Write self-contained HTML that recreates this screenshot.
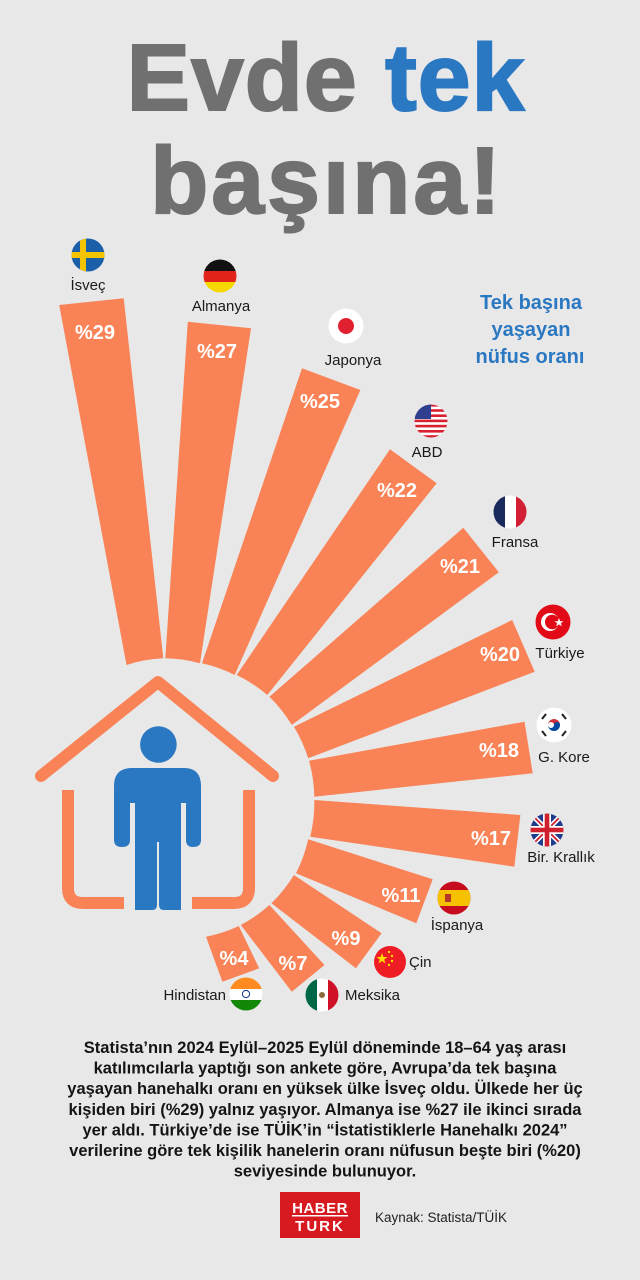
<!DOCTYPE html>
<html><head><meta charset="utf-8"><style>
html,body{margin:0;padding:0;background:#e8e8e9;}
svg{display:block;}
text{font-family:"Liberation Sans",sans-serif;}
</style></head><body>
<svg width="640" height="1280" viewBox="0 0 640 1280" xmlns="http://www.w3.org/2000/svg">
<rect width="640" height="1280" fill="#e8e8e9"/>
<defs>
<clipPath id="c"><circle cx="0" cy="0" r="16.5"/></clipPath>
</defs>
<!-- Title -->
<text x="326" y="110" text-anchor="middle" font-size="95" font-weight="bold" fill="#707070" stroke="#707070" stroke-width="2" letter-spacing="1">Evde <tspan fill="#2b78c2" stroke="#2b78c2">tek</tspan></text>
<text x="327" y="213" text-anchor="middle" font-size="95" font-weight="bold" fill="#707070" stroke="#707070" stroke-width="2" letter-spacing="3">başına!</text>

<g font-weight="bold" font-size="20" fill="#2b78c2" text-anchor="middle">
<text x="531" y="309">Tek başına</text>
<text x="531" y="336">yaşayan</text>
<text x="530" y="363">nüfus oranı</text>
</g>

<!-- Bars -->
<g fill="#f98356">
<path d="M126.5,665 L59.2,305 L123.7,298.3 L163.3,658.3 A142,142 0 0 0 126.5,665Z"/>
<path d="M165.3,658.3 L187.8,321.7 L251,328.3 L200,663.3 A142,142 0 0 0 165.3,658.3Z"/>
<path d="M202,663.3 L302,368.3 L360.4,390 L234.7,675 A142,142 0 0 0 202,663.3Z"/>
<path d="M236.7,675 L390,449.3 L436.7,483.3 L267.3,695 A142,142 0 0 0 236.7,675Z"/>
<path d="M269.4,696.7 L463.3,527.7 L498.8,572.3 L291.8,725 A142,142 0 0 0 269.4,696.7Z"/>
<path d="M293.9,726.7 L512.2,620 L534.7,671.7 L308.2,758.3 A142,142 0 0 0 293.9,726.7Z"/>
<path d="M309,760.7 L524.5,721.7 L532.7,773.3 L314.3,796.7 A142,142 0 0 0 309,760.7Z"/>
<path d="M314.3,800 L520.4,815 L514.3,866.7 L310.2,836.7 A142,142 0 0 0 314.3,800Z"/>
<path d="M308.2,839.3 L432.7,879.3 L416.3,923.3 L296,873.3 A142,142 0 0 0 308.2,839.3Z"/>
<path d="M293.9,875 L381.6,933.3 L355.9,968.3 L271.4,903.3 A142,142 0 0 0 293.9,875Z"/>
<path d="M269.4,905 L324.5,965 L291.8,991.7 L240.8,925 A142,142 0 0 0 269.4,905Z"/>
<path d="M238.8,926 L259.2,968.3 L222.4,981.7 L206,936.7 A142,142 0 0 0 238.8,926Z"/>
</g>
<g fill="#fff" font-weight="bold" font-size="20" text-anchor="middle">
<text x="95" y="339">%29</text>
<text x="217" y="358">%27</text>
<text x="320" y="408">%25</text>
<text x="397" y="497">%22</text>
<text x="460" y="573">%21</text>
<text x="500" y="661">%20</text>
<text x="499" y="757">%18</text>
<text x="491" y="845">%17</text>
<text x="401" y="902">%11</text>
<text x="346" y="945">%9</text>
<text x="293" y="970">%7</text>
<text x="234" y="965">%4</text>
</g>

<!-- House -->
<g fill="none" stroke="#f98356" stroke-width="12" stroke-linecap="round" stroke-linejoin="round">
<polyline points="41,776 158,682 273,776"/>
<path d="M68,790 V888 Q68,903 83,903 H124" stroke-linecap="butt"/>
<path d="M249,790 V888 Q249,903 234,903 H192" stroke-linecap="butt"/>
</g>
<g fill="#2b78c2">
<circle cx="158.4" cy="744.5" r="18.3"/>
<path d="M132,768 H184 Q201,768 201,786 V840 Q201,847 193,847 Q186,847 186,840 V803 H181 V910 H164 Q159,910 159,905 V842 H157 V905 Q157,910 152,910 H135 V803 H130 V840 Q130,847 122,847 Q114,847 114,840 V786 Q114,768 132,768Z"/>
</g>

<!-- Flags -->
<g transform="translate(88,255)" clip-path="url(#c)"><rect x="-17" y="-17" width="34" height="34" fill="#1b5fa8"/><rect x="-17" y="-3" width="34" height="6" fill="#f5c400"/><rect x="-8" y="-17" width="6" height="34" fill="#f5c400"/></g>
<g transform="translate(220,276)" clip-path="url(#c)"><rect x="-17" y="-17" width="34" height="12" fill="#111"/><rect x="-17" y="-5" width="34" height="11" fill="#e2231a"/><rect x="-17" y="6" width="34" height="11" fill="#f6d800"/></g>
<g transform="translate(346,326)"><circle r="17.5" fill="#fff"/><circle r="8" fill="#e12130"/></g>
<g transform="translate(431,421)" clip-path="url(#c)"><rect x="-17" y="-17" width="34" height="34" fill="#fff"/>
<g fill="#d8202f"><rect x="-17" y="-17" width="34" height="2.6"/><rect x="-17" y="-11.8" width="34" height="2.6"/><rect x="-17" y="-6.6" width="34" height="2.6"/><rect x="-17" y="-1.4" width="34" height="2.6"/><rect x="-17" y="3.8" width="34" height="2.6"/><rect x="-17" y="9" width="34" height="2.6"/><rect x="-17" y="14.2" width="34" height="2.8"/></g>
<rect x="-17" y="-17" width="17" height="15" fill="#2e3f8f"/></g>
<g transform="translate(510,512)" clip-path="url(#c)"><rect x="-17" y="-17" width="12" height="34" fill="#1b2a5c"/><rect x="-5" y="-17" width="11" height="34" fill="#fff"/><rect x="6" y="-17" width="11" height="34" fill="#d21f34"/></g>
<g transform="translate(553,622)"><circle r="17.5" fill="#e30a17"/><circle cx="-3" r="9" fill="#fff"/><circle cx="-0.8" r="7.2" fill="#e30a17"/><polygon points="6,-4 7.2,-0.8 10.5,-0.8 7.8,1.2 8.8,4.4 6,2.4 3.2,4.4 4.2,1.2 1.5,-0.8 4.8,-0.8" fill="#fff"/></g>
<g transform="translate(554,725)"><circle r="17.5" fill="#fff"/><path d="M-6,0 A6,6 0 0 1 6,0 A3,3 0 0 1 0,0 A3,3 0 0 0 -6,0Z" fill="#cd2e3a"/><path d="M-6,0 A6,6 0 0 0 6,0 A3,3 0 0 0 0,0 A3,3 0 0 1 -6,0Z" fill="#0047a0"/>
<g stroke="#222" stroke-width="2"><line x1="-12" y1="-6" x2="-8" y2="-11"/><line x1="8" y1="-11" x2="12" y2="-6"/><line x1="-12" y1="6" x2="-8" y2="11"/><line x1="8" y1="11" x2="12" y2="6"/></g></g>
<g transform="translate(547,830)" clip-path="url(#c)"><rect x="-17" y="-17" width="34" height="34" fill="#1f3b8c"/>
<g stroke="#fff" stroke-width="5"><line x1="-17" y1="-17" x2="17" y2="17"/><line x1="17" y1="-17" x2="-17" y2="17"/></g>
<g stroke="#d0202e" stroke-width="1.8"><line x1="-17" y1="-17" x2="17" y2="17"/><line x1="17" y1="-17" x2="-17" y2="17"/></g>
<rect x="-17" y="-4" width="34" height="8" fill="#fff"/><rect x="-4" y="-17" width="8" height="34" fill="#fff"/>
<rect x="-17" y="-2.3" width="34" height="4.6" fill="#d0202e"/><rect x="-2.3" y="-17" width="4.6" height="34" fill="#d0202e"/></g>
<g transform="translate(454,898)" clip-path="url(#c)"><rect x="-17" y="-17" width="34" height="34" fill="#c60b1e"/><rect x="-17" y="-8" width="34" height="16" fill="#f6c200"/><rect x="-9" y="-4" width="6" height="8" fill="#b33a2a"/></g>
<g transform="translate(390,962)"><circle r="16" fill="#ee1c25"/><polygon points="-8,-9 -6.6,-5 -2.5,-5 -5.8,-2.5 -4.6,1.5 -8,-1 -11.4,1.5 -10.2,-2.5 -13.5,-5 -9.4,-5" fill="#ffde00"/><g fill="#ffde00"><circle cx="-1" cy="-10" r="1.2"/><circle cx="2" cy="-6" r="1.2"/><circle cx="2" cy="-1" r="1.2"/><circle cx="-1" cy="3" r="1.2"/></g></g>
<g transform="translate(322,995)" clip-path="url(#c)"><rect x="-17" y="-17" width="12" height="34" fill="#006847"/><rect x="-5" y="-17" width="11" height="34" fill="#fff"/><rect x="6" y="-17" width="11" height="34" fill="#ce1126"/><circle r="3" fill="#8a6a3a"/></g>
<g transform="translate(246,994)" clip-path="url(#c)"><rect x="-17" y="-17" width="34" height="12" fill="#ff8a1f"/><rect x="-17" y="-5" width="34" height="11" fill="#fff"/><rect x="-17" y="6" width="34" height="11" fill="#138808"/><circle r="3.6" fill="none" stroke="#0a2f8a" stroke-width="1"/></g>

<!-- Country labels -->
<g font-size="15" fill="#1a1a1a" text-anchor="middle">
<text x="88" y="290">İsveç</text>
<text x="221" y="311">Almanya</text>
<text x="353" y="365">Japonya</text>
<text x="427" y="457">ABD</text>
<text x="515" y="547">Fransa</text>
<text x="560" y="658">Türkiye</text>
<text x="564" y="762">G. Kore</text>
<text x="561" y="862">Bir. Krallık</text>
<text x="457" y="930">İspanya</text>
<text x="409" y="967" text-anchor="start">Çin</text>
<text x="345" y="1000" text-anchor="start">Meksika</text>
<text x="226" y="1000" text-anchor="end">Hindistan</text>
</g>

<!-- Paragraph -->
<g font-size="16.5" font-weight="bold" fill="#151515" text-anchor="middle">
<text x="325" y="1053">Statista’nın 2024 Eylül–2025 Eylül döneminde 18–64 yaş arası</text>
<text x="325" y="1073.6">katılımcılarla yaptığı son ankete göre, Avrupa’da tek başına</text>
<text x="325" y="1094.2">yaşayan hanehalkı oranı en yüksek ülke İsveç oldu. Ülkede her üç</text>
<text x="325" y="1114.8">kişiden biri (%29) yalnız yaşıyor. Almanya ise %27 ile ikinci sırada</text>
<text x="325" y="1135.4">yer aldı. Türkiye’de ise TÜİK’in “İstatistiklerle Hanehalkı 2024”</text>
<text x="325" y="1156">verilerine göre tek kişilik hanelerin oranı nüfusun beşte biri (%20)</text>
<text x="325" y="1176.6">seviyesinde bulunuyor.</text>
</g>

<!-- Logo -->
<rect x="280" y="1192" width="80" height="46" fill="#d71920"/>
<g fill="#fff" font-weight="bold" font-size="15" text-anchor="middle">
<text x="320" y="1213" letter-spacing="0.5">HABER</text>
<text x="320" y="1231" letter-spacing="2">TURK</text>
</g>
<rect x="292" y="1215" width="56" height="1.5" fill="#fff"/>
<text x="375" y="1222" font-size="13.5" fill="#222">Kaynak: Statista/TÜİK</text>
</svg>
</body></html>
